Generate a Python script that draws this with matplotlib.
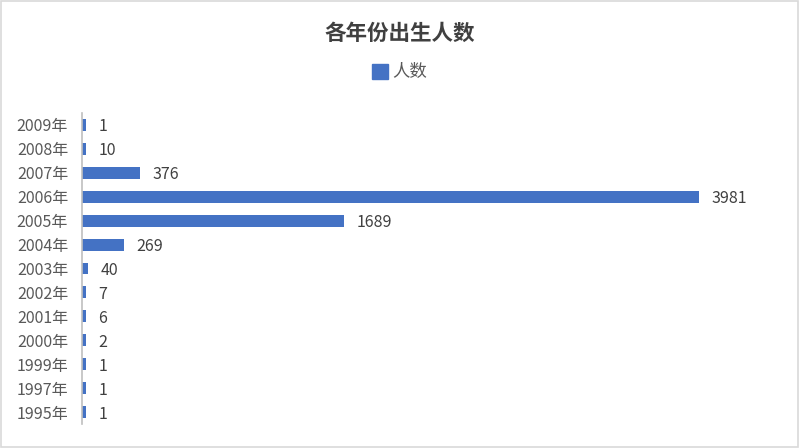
import matplotlib.pyplot as plt
from matplotlib.patches import Rectangle

plt.rcParams['font.family'] = ['Noto Sans CJK SC', 'DejaVu Sans']

years = ['1995年', '1997年', '1999年', '2000年', '2001年', '2002年', '2003年',
         '2004年', '2005年', '2006年', '2007年', '2008年', '2009年']
counts = [1, 1, 1, 2, 6, 7, 40, 269, 1689, 3981, 376, 10, 1]
bar_color = '#4472C4'
text_color = '#595959'

fig = plt.figure(figsize=(8, 4.48), dpi=100)
ax = fig.add_axes([0.1025, 0.0536, 0.8725, 0.6942])

pos = list(range(len(years)))
# tiny values still show a sliver, like in the original
shown = [max(c, 25) for c in counts]
ax.barh(pos, shown, height=0.5, color=bar_color)
for p, c, s in zip(pos, counts, shown):
    ax.text(s + 80, p, str(c), va='center_baseline', ha='left', fontsize=11.5,
            color='#404040')

ax.set_ylim(-0.5, len(years) - 0.5)
ax.set_xlim(0, 4500)
ax.set_yticks(pos)
ax.set_yticklabels(years, fontsize=11.5, color=text_color)
ax.tick_params(axis='y', length=0, pad=10)
ax.set_xticks([])
for side in ['top', 'right', 'bottom']:
    ax.spines[side].set_visible(False)
ax.spines['left'].set_color('#BFBFBF')
ax.spines['left'].set_linewidth(1.2)

fig.text(0.5, 0.925, '各年份出生人数', ha='center', va='center', fontsize=15.5,
         fontweight='bold', color='#404040')
fig.patches.append(Rectangle((0.465, 0.824), 0.02, 0.0335, transform=fig.transFigure,
                             color=bar_color))
fig.text(0.49, 0.84, '人数', ha='left', va='center', fontsize=12.5, color=text_color)

fig.patches.append(Rectangle((0.001, 0.002), 0.997, 0.995, transform=fig.transFigure,
                             fill=False, edgecolor='#D9D9D9', linewidth=1.2))

fig.savefig('out.png', dpi=100)
